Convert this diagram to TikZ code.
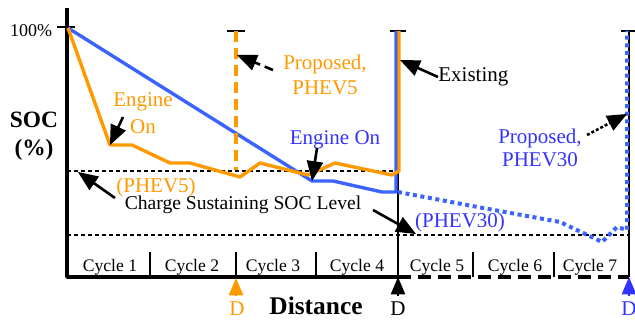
\documentclass[tikz,border=0pt]{standalone}
\usepackage{fontspec}
\setmainfont{Liberation Serif}
\usepackage{xcolor}
\usetikzlibrary{arrows}
\definecolor{phevorange}{RGB}{255,153,0}
\definecolor{phevblue}{RGB}{59,100,255}
\definecolor{textblue}{RGB}{51,51,255}
\tikzset{
  axis/.style={line width=1.8pt},
  cslevel/.style={line width=1.2pt,dash pattern=on 2pt off 1.5pt},
  curvefive/.style={phevorange,line width=1.7pt},
  curvethirty/.style={phevblue,line width=1.7pt},
  pointer/.style={->,line width=1.3pt},
  dpointer/.style={->,line width=1pt},
  lbl/.style={font=\fontsize{10.5}{12.5}\selectfont,align=center,inner sep=0pt},
  cyclbl/.style={font=\fontsize{8.8}{10}\selectfont,inner sep=0pt},
  bigbold/.style={font=\fontsize{11.7}{14}\selectfont\bfseries,align=center,inner sep=0pt}
}

\begin{document}
\begin{tikzpicture}[line cap=butt,line join=round,>=triangle 45,x=0.5pt,y=-0.5pt]
\useasboundingbox (0,0) rectangle (635,320);
% axes
\coordinate (ytop) at (67,8);
\coordinate (origin) at (67,277);
\coordinate (dfive) at (236,278);
\coordinate (dexist) at (398,277);
\coordinate (dthirty) at (629,277);
\draw [line width=0.7pt] (398,31) -- (dexist);
\draw [line width=0.7pt] (629,31) -- (dthirty);
\draw [axis] (ytop) -- (origin) -- (dexist);
\draw [axis,dash pattern=on 6.5pt off 3.5pt] (dexist) -- (dthirty);
\draw [line width=0.9pt] (57,27) -- (75,27);
\draw [line width=0.9pt] (227,31) -- (245,31);
\draw [line width=0.9pt] (390,31) -- (406,31);
\draw [line width=0.9pt] (621,31) -- (637,31);
\node [font=\fontsize{9}{10}\selectfont,inner sep=0pt] (full) at (31,31) {100\%};
\node [bigbold] (soc) at (34,136) {SOC\\(\%)};
% charge sustaining levels
\draw [cslevel] (67,171) -- (398,171);
\draw [cslevel] (67,235) -- (629,235);
% cycles
\foreach \x in {150,236,316,473,554}
  \draw [line width=0.9pt] (\x,252) -- (\x,277);
\foreach \x/\n in {110/1,192/2,273/3,357/4,437/5,515/6,590/7}
  \node [cyclbl] (cyc\n) at (\x,267) {Cycle \n};
% PHEV30 curve
\coordinate (b0) at (68,28);
\coordinate (b1) at (312,181);
\coordinate (b2) at (333,181);
\coordinate (b3) at (382,192);
\coordinate (b4) at (396,192);
\coordinate (b5) at (396,31);
\draw [curvethirty] (b0) -- (b1) -- (b2) -- (b3) -- (b4) -- (b5);
\coordinate (p0) at (398,192);
\coordinate (p1) at (483,208);
\coordinate (p2) at (560,222);
\coordinate (p3) at (602,242);
\coordinate (p4) at (617,227);
\coordinate (p5) at (627,230);
\coordinate (p6) at (627,31);
\draw [curvethirty,line width=2pt,dash pattern=on 2pt off 1.8pt] (p0) -- (p1) -- (p2) -- (p3) -- (p4) -- (p5) -- (p6);
% PHEV5 curve
\coordinate (o0) at (68,28);
\coordinate (o1) at (110,145);
\coordinate (o2) at (132,145);
\coordinate (o3) at (170,163);
\coordinate (o4) at (190,163);
\coordinate (o5) at (240,177);
\coordinate (o6) at (260,163);
\coordinate (o7) at (280,168);
\coordinate (o8) at (308,175);
\coordinate (o9) at (335,163);
\coordinate (o10) at (392,175);
\coordinate (o11) at (399,171);
\coordinate (o12) at (399,31);
\draw [curvefive] (o0) -- (o1) -- (o2) -- (o3) -- (o4) -- (o5) -- (o6) -- (o7) -- (o8) -- (o9) -- (o10) -- (o11) -- (o12);
\draw [curvefive,line width=2pt,dash pattern=on 5.5pt off 3pt] (236,31) -- (236,170);
% labels
\node [lbl,phevorange,font=\fontsize{10.5}{13.5}\selectfont] (engfive) at (143,113) {Engine\\On};
\node [lbl,phevorange] (propfive) at (325,75) {Proposed,\\PHEV5};
\node [lbl,anchor=west] (existing) at (438,77) {Existing};
\node [lbl,textblue,font=\fontsize{10.5}{11.5}\selectfont] (propthirty) at (540,148) {Proposed,\\PHEV30};
\node [lbl,textblue] (engthirty) at (335,140) {Engine On};
\node [lbl,phevorange] (csfive) at (156,187) {(PHEV5)};
\node [lbl,font=\fontsize{9.8}{11}\selectfont] (cslabel) at (243,205) {Charge Sustaining SOC Level};
\node [lbl,textblue] (csthirty) at (460,222) {(PHEV30)};
\node [font=\fontsize{12.7}{14}\selectfont\bfseries,inner sep=0pt] (distance) at (316,306) {Distance};
\node [lbl,phevorange] (dlblfive) at (237,309) {D};
\node [lbl] (dlblexist) at (398,309) {D};
\node [lbl,textblue] (dlblthirty) at (629,309) {D};
% pointers
\coordinate (engfivetail) at (123,117);
\coordinate (propfivetail) at (273,70);
\coordinate (propfivetip) at (237,55);
\coordinate (existtip) at (400,60);
\coordinate (propthirtytail) at (587,135);
\coordinate (propthirtytip) at (627,114);
\coordinate (engthirtytail) at (317,148);
\coordinate (csfivetail) at (115,198);
\coordinate (csfivetip) at (78,172);
\coordinate (csthirtytail) at (373,210);
\coordinate (csthirtytip) at (416,234);
\draw [pointer] (engfivetail) -- (o1);
\draw [pointer,dash pattern=on 4.5pt off 2.5pt] (propfivetail) -- (propfivetip);
\draw [pointer] (existing.west) -- (existtip);
\draw [pointer,dash pattern=on 1.5pt off 1pt] (propthirtytail) -- (propthirtytip);
\draw [pointer] (engthirtytail) -- (b1);
\draw [pointer] (csfivetail) -- (csfivetip);
\draw [pointer] (csthirtytail) -- (csthirtytip);
\draw [dpointer,phevorange] (236,296) -- (dfive);
\draw [dpointer] (398,296) -- (dexist);
\draw [dpointer,textblue] (629,296) -- (dthirty);
\end{tikzpicture}
\end{document}
